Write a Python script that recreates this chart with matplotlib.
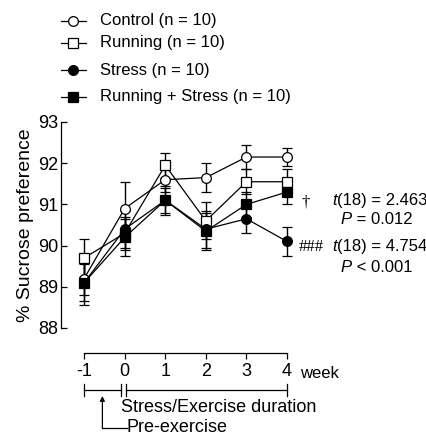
import matplotlib
matplotlib.use("Agg")
import matplotlib.pyplot as plt
from matplotlib.lines import Line2D
from matplotlib.transforms import blended_transform_factory

plt.rcParams['font.family'] = ['Liberation Sans', 'DejaVu Sans']

weeks = [-1, 0, 1, 2, 3, 4]
control = [89.2, 90.9, 91.6, 91.65, 92.15, 92.15]
running = [89.7, 90.3, 91.95, 90.6, 91.55, 91.55]
stress = [89.1, 90.4, 91.1, 90.4, 90.65, 90.1]
run_stress = [89.1, 90.2, 91.1, 90.35, 91.0, 91.3]

control_se = [0.4, 0.65, 0.3, 0.35, 0.28, 0.22]
running_se = [0.45, 0.4, 0.3, 0.45, 0.3, 0.3]
stress_se = [0.45, 0.45, 0.3, 0.45, 0.35, 0.35]
run_stress_se = [0.55, 0.45, 0.35, 0.45, 0.3, 0.3]

labels = ['Control (n = 10)', 'Running (n = 10)', 'Stress (n = 10)',
          'Running + Stress (n = 10)']
yticks = [88, 89, 90, 91, 92, 93]
W, H = 427, 437
FS = 12
FT = 13


def px(x, y):
    return x / W, 1 - y / H


fig = plt.figure(figsize=(W / 100, H / 100), dpi=100)
ax = fig.add_axes([61 / W, 1 - 328 / H, 239 / W, 206 / H])

series = [
    (control, control_se, 'o', 'white'),
    (running, running_se, 's', 'white'),
    (stress, stress_se, 'o', 'black'),
    (run_stress, run_stress_se, 's', 'black'),
]
for vals, se, m, fc in series:
    ax.errorbar(weeks, vals, yerr=se, fmt='-', color='black', lw=0.9,
                elinewidth=1.0, capsize=3.4, capthick=1.0, marker=m,
                markersize=7 if m == 'o' else 6.5, mfc=fc, mec='black',
                mew=0.9, clip_on=False)

ax.set_xlim(-1.57, 4.32)
ax.set_ylim(88, 93)
ax.set_yticks(yticks)
ax.set_yticklabels([str(v) for v in yticks])
ax.set_xticks(weeks)
ax.set_xticklabels([str(w) for w in weeks])
ax.spines['top'].set_visible(False)
ax.spines['right'].set_visible(False)
ax.spines['bottom'].set_position(('outward', 18))
ax.spines['bottom'].set_bounds(-1, 4)
ax.tick_params(axis='y', direction='in', length=4.5, width=0.9, labelsize=FT, pad=2)
ax.tick_params(axis='x', direction='out', length=4.5, width=0.9, labelsize=FT, pad=3)
for s in ['left', 'bottom']:
    ax.spines[s].set_linewidth(0.9)
ax.set_ylabel('% Sucrose preference', fontsize=14, labelpad=3)

# legend
rows = [21, 43, 70, 97]
for (vals, se, m, fc), lab, yy in zip(series, labels, rows):
    x0, y0 = px(61, yy)
    x1, _ = px(86, yy)
    fig.add_artist(Line2D([x0, x1], [y0, y0], color='black', lw=0.9,
                          transform=fig.transFigure))
    fig.add_artist(Line2D([(x0 + x1) / 2], [y0], marker=m, mfc=fc, mec='black',
                          mew=0.9, markersize=7 if m == 'o' else 6.5,
                          transform=fig.transFigure))
    fig.text(*px(100, yy), lab, fontsize=FS, va='center', ha='left')

# statistics text
fig.text(*px(306, 203), '\u2020', fontsize=FS, ha='center', va='center',
         family='Liberation Serif')
fig.text(*px(337, 200), 't', fontsize=FS, ha='right', va='center', style='italic')
fig.text(*px(337, 200), '(18) = 2.463', fontsize=FS, ha='left', va='center')
fig.text(*px(352, 219), 'P', fontsize=FS, ha='right', va='center', style='italic')
fig.text(*px(352, 219), ' = 0.012', fontsize=FS, ha='left', va='center')
fig.text(*px(311, 247), '###', fontsize=FS, ha='center', va='center',
         family='Liberation Serif')
fig.text(*px(337, 247), 't', fontsize=FS, ha='right', va='center', style='italic')
fig.text(*px(337, 247), '(18) = 4.754', fontsize=FS, ha='left', va='center')
fig.text(*px(352, 268), 'P', fontsize=FS, ha='right', va='center', style='italic')
fig.text(*px(352, 268), ' < 0.001', fontsize=FS, ha='left', va='center')
fig.text(*px(300, 373), 'week', fontsize=FS, ha='left', va='center')

# duration brackets under the x axis
tr = blended_transform_factory(ax.transData, fig.transFigure)
yb = 1 - 390 / H
dy = 6 / H
kw = dict(color='black', lw=0.9, transform=tr, clip_on=False)
fig.add_artist(Line2D([-1, -0.08], [yb, yb], **kw))
fig.add_artist(Line2D([0.02, 4], [yb, yb], **kw))
for xx in [-1, -0.08, 0.02, 4]:
    fig.add_artist(Line2D([xx, xx], [yb - dy, yb + dy], **kw))
fig.text(*px(121, 407), 'Stress/Exercise duration', fontsize=FT, ha='left', va='center')

# pre-exercise arrow
ax.annotate('', xy=(-0.55, 1 - 396 / H), xycoords=tr,
            xytext=(-0.55, 1 - 428 / H), textcoords=tr,
            arrowprops=dict(arrowstyle='-|>', color='black', lw=0.9,
                            mutation_scale=7, shrinkA=0, shrinkB=0),
            annotation_clip=False)
fig.add_artist(Line2D([-0.55, 0.05], [1 - 428 / H, 1 - 428 / H], **kw))
fig.text(*px(127, 428), 'Pre-exercise', fontsize=FT, ha='left', va='center')

fig.savefig('out.png', dpi=100)
